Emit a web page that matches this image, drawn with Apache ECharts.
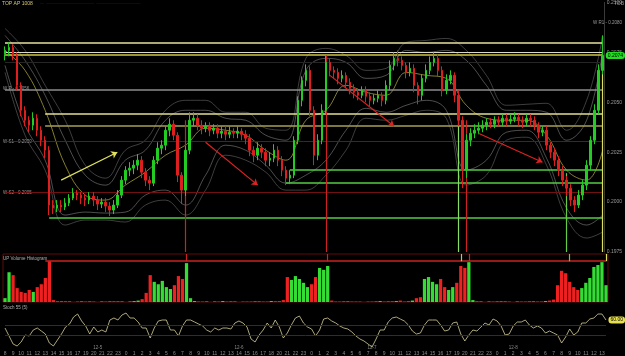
<!DOCTYPE html>
<html><head><meta charset="utf-8">
<script src="https://cdn.jsdelivr.net/npm/echarts@6/dist/echarts.min.js"></script>
<style>html,body{margin:0;padding:0;background:#000;}#c{width:625px;height:356px;}</style>
</head><body><div id="c"></div>
<script>
// [open, close, low, high]
const ohlc = [
[0.2074,0.2076,0.2071,0.2078],[0.2076,0.20775,0.2073,0.2080],[0.20775,0.20735,0.2071,0.2079],[0.20735,0.20585,0.2056,0.2075],[0.20585,0.2046,0.2043,0.2060],
[0.2046,0.2041,0.2038,0.2048],[0.2041,0.20385,0.2035,0.2043],[0.20385,0.2042,0.2036,0.2045],[0.2042,0.2036,0.2033,0.2044],[0.2036,0.2031,0.2028,0.2038],
[0.2031,0.2026,0.2022,0.2033],[0.2026,0.19985,0.19935,0.2028],[0.19985,0.1997,0.1994,0.2001],[0.1997,0.19985,0.1995,0.2001],[0.19985,0.19975,0.1995,0.2001],
[0.19975,0.19995,0.1996,0.2002],[0.19995,0.2002,0.1998,0.2004],[0.2002,0.20045,0.2001,0.2007],[0.20045,0.20035,0.2001,0.2006],[0.20035,0.2002,0.1999,0.2005],
[0.2002,0.2001,0.1998,0.2004],[0.2001,0.2003,0.1999,0.2005],[0.2003,0.2001,0.1998,0.2005],[0.2001,0.1999,0.1996,0.2003],[0.1999,0.2000,0.1997,0.2002],
[0.2000,0.1998,0.1995,0.2002],[0.1998,0.1996,0.1993,0.2000],[0.1996,0.19985,0.1994,0.2001],[0.19985,0.20035,0.1997,0.2006],[0.20035,0.2011,0.2002,0.2013],
[0.2011,0.2016,0.2009,0.2018],[0.2016,0.2017,0.2013,0.2020],[0.2017,0.20185,0.2014,0.2021],[0.20185,0.2021,0.2016,0.2024],[0.2021,0.2015,0.2012,0.2023],
[0.2015,0.2011,0.2008,0.2017],[0.2011,0.20095,0.2006,0.2013],[0.20095,0.2021,0.2008,0.2023],[0.2021,0.2027,0.2019,0.2030],[0.2027,0.20285,0.2024,0.2031],
[0.20285,0.2036,0.2026,0.2038],[0.2036,0.2039,0.2033,0.2042],[0.2039,0.20335,0.2031,0.2041],[0.20335,0.20135,0.2010,0.2035],[0.20135,0.2006,0.1999,0.2015],
[0.2006,0.2026,0.2003,0.2028],[0.2026,0.2041,0.2024,0.2045],[0.2041,0.2042,0.2038,0.2045],[0.2042,0.20385,0.2036,0.2044],[0.20385,0.2037,0.2034,0.2041],
[0.2037,0.2038,0.2035,0.2040],[0.2038,0.2036,0.2033,0.2040],[0.2036,0.2037,0.2034,0.2039],[0.2037,0.20345,0.2032,0.2039],[0.20345,0.20355,0.2032,0.2038],
[0.20355,0.2034,0.2031,0.2038],[0.2034,0.2035,0.2032,0.2038],[0.2035,0.20345,0.2032,0.2037],[0.20345,0.20355,0.2032,0.2038],[0.20355,0.2034,0.2031,0.2037],
[0.2034,0.2032,0.2029,0.2036],[0.2032,0.2026,0.2023,0.2034],[0.2026,0.20235,0.2020,0.2028],[0.20235,0.2027,0.2021,0.2030],[0.2027,0.2025,0.2022,0.2029],
[0.2025,0.2021,0.2018,0.2027],[0.2021,0.2022,0.2018,0.2025],[0.2022,0.2026,0.2020,0.2029],[0.2026,0.2021,0.2018,0.2028],[0.2021,0.2016,0.2013,0.2023],
[0.2016,0.2012,0.20085,0.2018],[0.2012,0.20135,0.2009,0.2016],[0.20135,0.2031,0.2012,0.2033],[0.2031,0.2051,0.2029,0.2053],[0.2051,0.2061,0.2048,0.2063],
[0.2061,0.2066,0.2058,0.2069],[0.2066,0.2046,0.2043,0.2068],[0.2046,0.20235,0.20185,0.2048],[0.20235,0.2031,0.2021,0.2034],[0.2031,0.2046,0.2029,0.2049],
[0.2046,0.2070,0.2044,0.20735],[0.2070,0.2066,0.2063,0.2072],[0.2066,0.2065,0.2062,0.2068],[0.2065,0.2062,0.2059,0.2067],[0.2062,0.20635,0.2060,0.2066],
[0.20635,0.2060,0.2057,0.2065],[0.2060,0.2057,0.2054,0.2062],[0.2057,0.2055,0.2052,0.2059],[0.2055,0.20535,0.2051,0.2057],[0.20535,0.2056,0.2052,0.2058],
[0.2056,0.2053,0.2050,0.2058],[0.2053,0.2051,0.2048,0.2055],[0.2051,0.2052,0.2049,0.2054],[0.2052,0.20535,0.2050,0.2056],[0.20535,0.2051,0.2048,0.2055],
[0.2051,0.20585,0.2049,0.2061],[0.20585,0.20685,0.2056,0.2071],[0.20685,0.2072,0.2066,0.2075],[0.2072,0.2071,0.2068,0.2076],[0.2071,0.20685,0.2066,0.2073],
[0.20685,0.2065,0.2062,0.2070],[0.2065,0.2067,0.2063,0.2070],[0.2067,0.20585,0.2055,0.2069],[0.20585,0.20535,0.2049,0.2060],[0.20535,0.2062,0.2051,0.2064],
[0.2062,0.2066,0.2060,0.2069],[0.2066,0.2070,0.2064,0.2073],[0.2070,0.2072,0.2068,0.2075],[0.2072,0.2066,0.2063,0.2074],[0.2066,0.2056,0.2053,0.2068],
[0.2056,0.2061,0.2054,0.2064],[0.2061,0.20635,0.2059,0.2066],[0.20635,0.20535,0.2050,0.2065],[0.20535,0.2041,0.2038,0.2056],[0.2041,0.2016,0.2007,0.2043],
[0.2016,0.2031,0.2012,0.2034],[0.2031,0.20345,0.2028,0.2037],[0.20345,0.2036,0.2032,0.2039],[0.2036,0.2037,0.2034,0.2040],[0.2037,0.20385,0.2035,0.2041],
[0.20385,0.2040,0.2036,0.2042],[0.2040,0.2039,0.2037,0.2042],[0.2039,0.2041,0.2037,0.2043],[0.2041,0.2040,0.2038,0.2043],[0.2040,0.2042,0.2038,0.2044],
[0.2042,0.20405,0.2038,0.2044],[0.20405,0.20415,0.2039,0.2044],[0.20415,0.20425,0.2040,0.2045],[0.20425,0.2041,0.2038,0.2044],[0.2041,0.2040,0.2037,0.2043],
[0.2040,0.2042,0.2038,0.2044],[0.2042,0.2041,0.2038,0.2044],[0.2041,0.20385,0.2036,0.2043],[0.20385,0.2035,0.2032,0.2040],[0.2035,0.2036,0.2033,0.2038],
[0.2036,0.20285,0.2026,0.2038],[0.20285,0.2025,0.2022,0.2030],[0.2025,0.2021,0.2018,0.2027],[0.2021,0.2016,0.2013,0.2023],[0.2016,0.2011,0.2008,0.2018],
[0.2011,0.2007,0.2003,0.2013],[0.2007,0.2001,0.1998,0.2009],[0.2001,0.19985,0.1995,0.2003],[0.19985,0.20035,0.1997,0.2006],[0.20035,0.20085,0.2001,0.2011],
[0.20085,0.20185,0.2006,0.2021],[0.20185,0.2031,0.2016,0.2033],[0.2031,0.2046,0.2029,0.2049],[0.2046,0.2066,0.2044,0.2069],[0.2066,0.20735,0.2064,0.20835]
];
const volume = [
8,62,56,29,21,19,25,21,31,37,50,85,4,
1,2,1,1,0,1,2,1,1,1,0,1,1,2,1,1,1,0,1,2,3,
6,19,56,42,37,44,31,27,35,54,48,81,8,
2,1,1,1,0,1,1,2,1,1,1,0,1,1,1,2,1,1,1,2,1,2,4,
52,46,54,48,40,31,37,52,71,67,75,3,
1,1,1,2,1,1,1,0,1,1,1,2,1,1,1,2,3,1,2,3,
8,10,48,52,42,37,48,31,25,31,40,75,71,83,4,
1,1,0,1,1,1,2,1,1,0,1,1,1,1,2,1,1,2,3,5,
35,65,60,42,31,25,29,40,50,73,77,83,35
];
const stoch = [
44,28,12,8,16,30,28,40,44,38, 32,14,8,20,32,46,52,66,72,58,
48,32,46,36,40,36,60,64,60,70, 74,64,64,56,44,44,24,44,58,60,
60,40,40,28,48,60,60,56,52,48, 40,36,44,40,44,44,42,54,58,54,
46,22,16,30,40,54,44,60,46,24, 34,50,64,68,54,46,42,28,40,62,
64,58,54,48,44,42,36,28,22,18, 12,6,22,40,40,56,64,66,62,58,
50,38,32,34,50,60,60,60,50,38, 40,54,56,32,18,30,40,38,46,54,
50,62,58,48,30,32,48,56,56,60, 50,44,48,44,34,38,34,30,14,26,
42,30,36,54,54,62,64,72,72,60
];
const bandX = [0,5,10,15,20,25,30,35,40,45,50,55,60,65,70,75,80,85,90,95,100,105,110,115,120,125,130,135,140,145,149];
const bandMid = [0.2076,0.2066,0.2046,0.20185,0.20035,0.2001,0.20085,0.2015,0.20235,0.20285,0.2037,0.2036,0.20335,0.2026,0.2021,0.2041,0.2046,0.20585,0.2055,0.20535,0.2065,0.20635,0.2062,0.20485,0.2042,0.2041,0.2041,0.20335,0.2016,0.2011,0.2026];
const bandUp1 = [0.20835,0.2071,0.20535,0.2031,0.20135,0.20085,0.2021,0.2026,0.2041,0.2046,0.2046,0.2042,0.2041,0.20335,0.2031,0.2066,0.2072,0.2070,0.2062,0.20635,0.2076,0.2075,0.2076,0.2071,0.20585,0.2046,0.2046,0.2045,0.2031,0.2041,0.2076];
const bandUp2 = [0.2087,0.2076,0.20585,0.2041,0.20185,0.2012,0.2026,0.2031,0.2046,0.2051,0.2051,0.2045,0.2045,0.2037,0.2036,0.2072,0.2077,0.20735,0.2066,0.2067,0.2080,0.2081,0.2082,0.2076,0.20635,0.20485,0.2049,0.20495,0.2036,0.2051,0.20835];
const bandLo1 = [0.20685,0.20385,0.2021,0.19935,0.1995,0.19945,0.1995,0.20035,0.2006,0.19985,0.20135,0.20285,0.2026,0.20185,0.20095,0.20135,0.2021,0.2036,0.2047,0.2045,0.20485,0.2051,0.2046,0.2016,0.2021,0.2035,0.2036,0.2022,0.1997,0.19885,0.19935];
const bandLo2 = [0.2065,0.20335,0.2016,0.19885,0.1991,0.1991,0.1990,0.19985,0.2001,0.19935,0.2006,0.20235,0.2021,0.2015,0.2006,0.2006,0.20135,0.2026,0.2042,0.2041,0.20435,0.2046,0.2042,0.20085,0.20135,0.2031,0.20325,0.20185,0.1992,0.1982,0.1985];
const hourTicks = ["8","9","10","11","12","13","14","15","16","17","19","20","21","22","23","0","1","2","3","4","5","6","7","8","9",
"10","11","12","13","14","15","16","17","18","20","21","22","23","0","1","2","3","4","5","6","7","8","9","10","11",
"12","13","14","15","16","17","19","20","21","22","23","0","1","2","3","4","5","6","7","8","9","10","11","12","13"];
const dateTicks = ["12-5","12-6","12-7","12-8"];
const dateIdx = [23,58,91,126];
const levelsFull = [0.2080,0.2075,0.2074,0.20565,0.2070,0.20305,0.2005];
const levelsPartial = [[10,0.20445],[10,0.20385],[71,0.2016],[70,0.20095],[11,0.1992]];
const verticals = [[45,0.2041],[80,0.20735],[113,0.2047],[115,0.2041],[140,0.20145],[149,0.2083]];
const arrows = [[[14,0.2011],[28,0.2025]],[[50,0.2030],[63,0.20085]],[[81,0.20635],[97,0.2038]],[[118,0.20345],[134,0.2020]]];
const volLevel = 85;
const stochLevels = [50,30];

const cats = ohlc.map((d,i)=>String(i));
const LAST = ohlc.length-1;
const FONT = "'Liberation Sans', sans-serif";
const fullColors = ['#e6e2a0','#d8d8cc','#cfc640','#8c8c8c','#262626','#701212','#701212'];
const fullWidths = [1.5,1.2,1.5,1.5,1,1,1];
const partColors = ['#e2df90','#a89f55','#55cc44','#55cc44','#55cc44'];
const vertColors = ['#cc2222','#cc2222','#88dd66','#cc2222','#66cc44','#e0e060'];
const arrowColors = ['#dede60','#dd2222','#dd2222','#dd2222'];

function hLine(x0, x1, v, style){ return [{coord:[x0,v], lineStyle:style},{coord:[x1,v]}]; }

const priceMarks = [];
levelsFull.forEach((v,k)=>priceMarks.push(hLine(0, LAST, v, {color:fullColors[k], width:fullWidths[k], type:'solid'})));
levelsPartial.forEach((p,k)=>priceMarks.push(hLine(p[0], LAST, p[1], {color:partColors[k], width:1.5, type:'solid'})));
verticals.forEach((p,k)=>priceMarks.push([{coord:[p[0],p[1]], lineStyle:{color:vertColors[k], width:1.2, type:'solid'}},{coord:[p[0],0.1975]}]));

const lastClose = ohlc[LAST][1];
const lastStoch = stoch[LAST];
const stochMarks = stochLevels.map(v=>hLine(0, LAST, v, {color:'#20209a', width:1, type:'solid'}));

const volMarks = [hLine(10, LAST, volLevel, {color:'#cc2222', width:1.5, type:'solid'})];
verticals.forEach((p,k)=>volMarks.push([{coord:[p[0],100], lineStyle:{color:vertColors[k], width:1.2, type:'solid'}},{coord:[p[0],volLevel]}]));

const arrowMarks = arrows.map((a,k)=>[{coord:a[0], lineStyle:{color:arrowColors[k], width:1.2, type:'solid'}},{coord:a[1]}]);

function band(arr){ return bandX.map((x,k)=>[x,arr[k]]); }
function bandSeries(arr,color,w,extra){
  return Object.assign({type:'line', xAxisIndex:0, yAxisIndex:0, data:band(arr), smooth:0.4, symbol:'none', silent:true,
    lineStyle:{color:color, width:w}, z:1}, extra||{});
}

const chart = echarts.init(document.getElementById('c'), null, {renderer:'canvas'});
chart.setOption({
  backgroundColor:'#000',
  animation:false,
  textStyle:{fontFamily:FONT},
  grid:[
    {left:3, right:17, top:2, height:250},
    {left:3, right:17, top:254, height:48, show:true, borderColor:'#5c0c0c', borderWidth:1},
    {left:3, right:17, top:300, height:50}
  ],
  xAxis:[
    {type:'category', gridIndex:0, data:cats, axisLine:{show:false}, axisTick:{show:false}, axisLabel:{show:false}},
    {type:'category', gridIndex:1, data:cats, axisLine:{show:false}, axisTick:{show:false}, axisLabel:{show:false}},
    {type:'category', gridIndex:2, data:cats, axisLine:{show:false}, axisTick:{show:false},
      axisLabel:{show:true, interval:1, margin:1, fontSize:5, color:'#8a8a8a', formatter:(v,i)=>hourTicks[i/2]||''}},
    {type:'category', gridIndex:2, data:cats, position:'bottom', offset:-5, axisLine:{show:false}, axisTick:{show:false},
      axisLabel:{show:true, interval:(i)=>dateIdx.indexOf(i)>=0, margin:0, fontSize:4.5, color:'#8a8a8a',
        formatter:(v,i)=>{const k=dateIdx.indexOf(i); return k>=0?dateTicks[k]:'';}}}
  ],
  yAxis:[
    {type:'value', gridIndex:0, position:'right', min:0.1975, max:0.2100, interval:0.0025, splitLine:{show:false},
      axisLine:{show:true, lineStyle:{color:'#3a3a3a'}}, axisTick:{show:false},
      axisLabel:{fontSize:5, color:'#9a9a9a', margin:2, formatter:(v)=>v.toFixed(4)},
      axisPointer:{show:true, type:'none', value:lastClose, status:'show', triggerTooltip:false,
        label:{show:true, formatter:lastClose.toFixed(4), backgroundColor:'#22dd22', color:'#000', fontSize:5, padding:[1,2], margin:1}}},
    {type:'value', gridIndex:1, min:0, max:100, show:false},
    {type:'value', gridIndex:2, min:0, max:100, position:'right', axisLine:{show:false}, axisTick:{show:false}, axisLabel:{show:false}, splitLine:{show:false},
      axisPointer:{show:true, type:'none', value:lastStoch, status:'show', triggerTooltip:false,
        label:{show:true, formatter:lastStoch.toFixed(2), backgroundColor:'#e8e050', color:'#000', fontSize:5, padding:[1,2], margin:1}}}
  ],
  axisPointer:{triggerOn:'none'},
  series:[
    bandSeries(bandUp2,'#7c7c7c',0.5),
    bandSeries(bandUp1,'#9c9c9c',0.5),
    bandSeries(bandLo1,'#9c9c9c',0.5),
    bandSeries(bandLo2,'#7c7c7c',0.5),
    bandSeries(bandMid,'#bdb540',0.7,{markLine:{silent:true, symbol:['none','arrow'], symbolSize:6, label:{show:false}, data:arrowMarks}}),
    {type:'candlestick', xAxisIndex:0, yAxisIndex:0, data:ohlc, barWidth:2, z:3,
      itemStyle:{color:'#22cc22', color0:'#dd1f1f', borderColor:'#22cc22', borderColor0:'#dd1f1f', borderWidth:1},
      markLine:{silent:true, symbol:'none', label:{show:false}, z:2, data:priceMarks}},
    {type:'bar', xAxisIndex:1, yAxisIndex:1, data:volume, barWidth:'80%',
      itemStyle:{color:(p)=>{const d=ohlc[p.dataIndex]; const diff=d[1]-d[0]; if(Math.abs(diff)<0.00006) return '#c8801c'; return diff>0?'#33dd33':'#ee2020';}},
      markLine:{silent:true, symbol:'none', label:{show:false}, data:volMarks}},
    {type:'line', xAxisIndex:2, yAxisIndex:2, data:stoch, symbol:'none', silent:true,
      lineStyle:{color:'#d8cf9a', width:0.8},
      markLine:{silent:true, symbol:'none', label:{show:false}, data:stochMarks}}
  ],
  graphic:[
    {type:'text', left:2, top:1, style:{text:'TOP AP 1008', fill:'#d8c870', font:"5px "+FONT}},
    {type:'text', left:40, top:1, style:{text:'—  ————————————  ———————————', fill:'#333', font:"4px "+FONT}},
    {type:'text', left:3, top:86, style:{text:'W P - 0.2056', fill:'#9a9a9a', font:"4.5px "+FONT}},
    {type:'text', left:3, top:139, style:{text:'W S1 - 0.2030', fill:'#9a9a9a', font:"4.5px "+FONT}},
    {type:'text', left:3, top:190, style:{text:'W S2 - 0.2005', fill:'#9a9a9a', font:"4.5px "+FONT}},
    {type:'text', right:3, top:20, style:{text:'W R1 - 0.2080', fill:'#9a9a9a', font:"4.5px "+FONT}},
    {type:'text', right:1, top:1, style:{text:'TOB', fill:'#9a9a9a', font:"5px "+FONT}},
    {type:'text', left:3, top:256, style:{text:'UP Volume Histogram', fill:'#b0b0b0', font:"4.5px "+FONT}},
    {type:'text', left:3, top:305, style:{text:'Stoch 55 (5)', fill:'#b0b0b0', font:"4.5px "+FONT}}
  ]
});
</script>
</body></html>
